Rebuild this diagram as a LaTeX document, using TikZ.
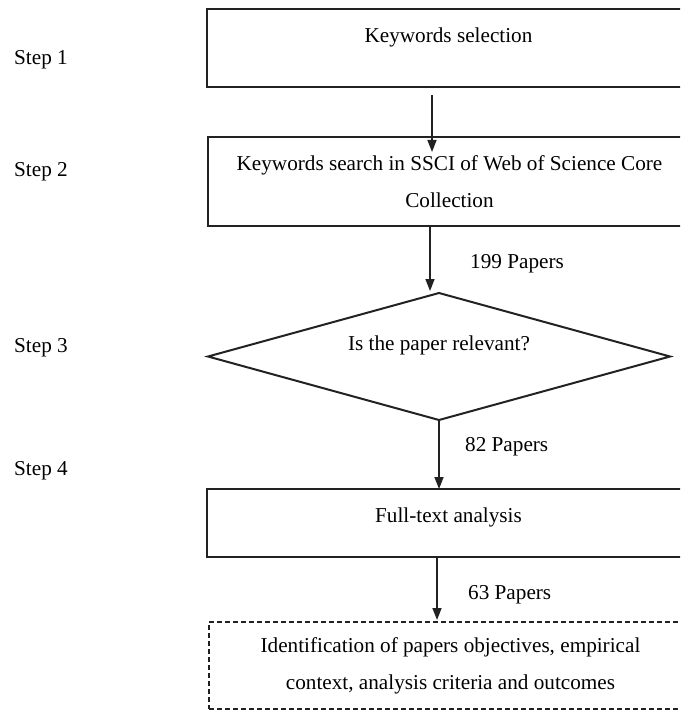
\documentclass[tikz,border=0pt]{standalone}
\usepackage{fontspec}
\setmainfont{Liberation Serif}
\usetikzlibrary{shapes.geometric,arrows.meta}
\definecolor{pag}{HTML}{222222}
\tikzset{
	stepbox/.style={draw=pag,line width=2pt,rectangle,anchor=north west,minimum width=483pt,inner xsep=0pt,inner ysep=0pt,outer sep=0pt,align=center},
	decision/.style={draw=pag,line width=2pt,diamond,aspect=3.64,minimum width=462pt,minimum height=127pt,inner sep=0pt,outer sep=0pt},
	flow/.style={draw=pag,line width=1.6pt,-{Triangle[length=12pt,width=9pt]}},
	steptext/.style={anchor=base west,inner sep=0pt},
	count/.style={anchor=base west,inner sep=0pt}
}

\begin{document}
\begin{tikzpicture}[x=1pt,y=-1pt,font=\fontsize{21.2}{37}\selectfont]

			\useasboundingbox (0,0) rectangle (680,711);
			\clip (0,0) rectangle (680,711);

			% Step labels
			\node[steptext] (step1) at (14,65) {Step 1};
			\node[steptext] (step2) at (14,177) {Step 2};
			\node[steptext] (step3) at (14,352) {Step 3};
			\node[steptext] (step4) at (14,475) {Step 4};

			% Boxes
			\node[stepbox,minimum height=78pt,text height=34pt,text depth=44pt] (select) at (207,9) {Keywords selection};
			\node[stepbox,minimum height=89pt] (search) at (208,137) {Keywords search in SSCI of Web of Science Core\\Collection};
			\node[decision,text height=15pt,text depth=28pt] (relevant) at (439,356.5) {Is the paper relevant?};
			\node[stepbox,minimum height=68pt,text height=33pt,text depth=35pt] (fulltext) at (207,489) {Full-text analysis};
			\node[stepbox,minimum height=87pt,line width=1.5pt,dash pattern=on 5pt off 3pt] (outcome) at (209,622) {Identification of papers objectives, empirical\\context, analysis criteria and outcomes};

			% Arrows
			\draw[flow] ([xshift=-16.5pt,yshift=-8pt]select.south) -- ([xshift=-17.5pt,yshift=-15pt]search.north);
			\draw[flow] ([xshift=-19.5pt]search.south) -- ([xshift=-9pt,yshift=2pt]relevant.north);
			\draw[flow] (relevant.south) -- (relevant.south |- fulltext.north);
			\draw[flow] ([xshift=-11.5pt]fulltext.south) -- ([xshift=-13.5pt,yshift=2pt]outcome.north);

			% Paper counts
			\node[count] (n199) at (470,268) {199 Papers};
			\node[count] (n82) at (465,451) {82 Papers};
			\node[count] (n63) at (468,599) {63 Papers};
		\end{tikzpicture}
\end{document}
